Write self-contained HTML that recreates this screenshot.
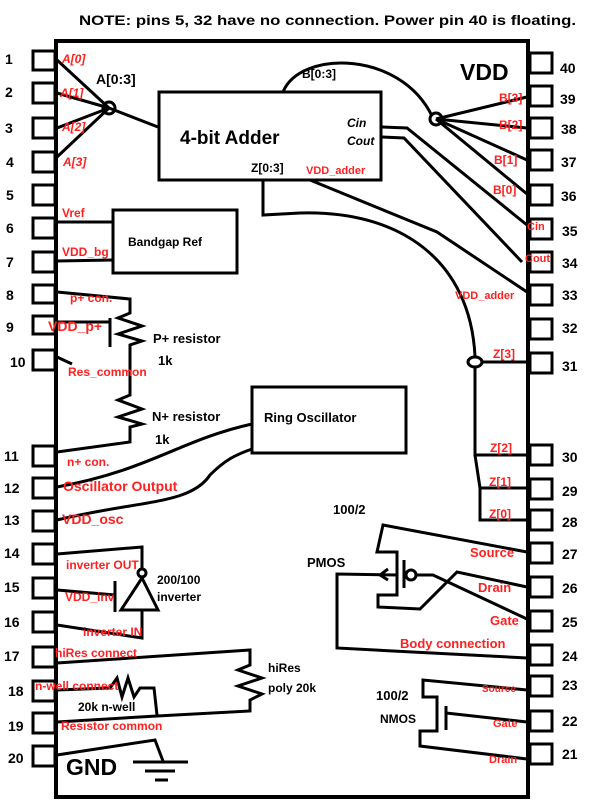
<!DOCTYPE html>
<html><head><meta charset="utf-8"><style>
html,body{margin:0;padding:0;background:#fff;}
svg{display:block;}
text{font-family:"Liberation Sans",sans-serif;font-weight:bold;}
.b{fill:#000;}
.r{fill:#ff2020;}
</style></head><body>
<svg width="600" height="808" viewBox="0 0 600 808" xmlns="http://www.w3.org/2000/svg">
<g fill="none" stroke="#000" stroke-width="3" stroke-linejoin="miter">
<!-- chip body -->
<rect x="56" y="41" width="472" height="756" stroke-width="4"/>
<!-- left pins -->
<g stroke-width="3">
<rect x="33" y="51" width="22" height="19"/>
<rect x="33" y="83" width="22" height="20"/>
<rect x="33" y="118" width="22" height="20"/>
<rect x="33" y="152" width="22" height="20"/>
<rect x="33" y="185" width="22" height="20"/>
<rect x="33" y="218" width="22" height="20"/>
<rect x="33" y="252" width="22" height="20"/>
<rect x="33" y="285" width="22" height="18"/>
<rect x="33" y="316" width="22" height="18"/>
<rect x="33" y="350" width="22" height="20"/>
<rect x="33" y="446" width="22" height="20"/>
<rect x="33" y="478" width="22" height="20"/>
<rect x="33" y="511" width="22" height="20"/>
<rect x="33" y="544" width="22" height="20"/>
<rect x="33" y="578" width="22" height="20"/>
<rect x="33" y="612" width="22" height="20"/>
<rect x="33" y="647" width="22" height="20"/>
<rect x="33" y="681" width="22" height="20"/>
<rect x="33" y="713" width="22" height="20"/>
<rect x="33" y="746" width="22" height="20"/>
</g>
<!-- right pins -->
<g>
<rect x="530" y="53" width="22" height="20"/>
<rect x="530" y="86" width="22" height="20"/>
<rect x="530" y="118" width="22" height="20"/>
<rect x="530" y="150" width="22" height="20"/>
<rect x="530" y="185" width="22" height="20"/>
<rect x="530" y="219" width="22" height="20"/>
<rect x="530" y="252" width="22" height="20"/>
<rect x="530" y="285" width="22" height="20"/>
<rect x="530" y="319" width="22" height="20"/>
<rect x="530" y="353" width="22" height="20"/>
<rect x="530" y="445" width="22" height="20"/>
<rect x="530" y="479" width="22" height="20"/>
<rect x="530" y="510" width="22" height="20"/>
<rect x="530" y="543" width="22" height="20"/>
<rect x="530" y="577" width="22" height="20"/>
<rect x="530" y="611" width="22" height="20"/>
<rect x="530" y="645" width="22" height="20"/>
<rect x="530" y="676" width="22" height="20"/>
<rect x="530" y="711" width="22" height="20"/>
<rect x="530" y="744" width="22" height="20"/>
</g>
<!-- adder -->
<rect x="159" y="92" width="222" height="88"/>
<circle cx="109" cy="108" r="6"/>
<path d="M57 60 L109 108 M57 93 L109 108 M57 128 L109 108 M57 157 L109 108 M109 108 L158 127"/>
<path d="M283 92 C300 50 400 50 432 116"/>
<circle cx="436" cy="119" r="6"/>
<path d="M436 119 L527 97 M436 119 L527 128 M436 119 L527 160 M436 119 L527 194"/>
<path d="M382 127 L407 128 L527 225"/>
<path d="M382 137 L404 138 L522 262"/>
<path d="M310 180 L437 232 L527 292"/>
<path d="M263 180 L263 215 L300 213 C400 210 470 260 475 356"/>
<ellipse cx="475" cy="362" rx="7" ry="5"/>
<path d="M482 362 L527 362 M475 367 L475 455 L527 455 M475 455 L480 488 L527 488 M480 488 L480 520 L527 520"/>
<!-- bandgap -->
<rect x="113" y="210" width="124" height="63"/>
<path d="M57 222 L113 222 M57 261 L113 260"/>
<!-- resistors -->
<path d="M57 292 L130 299 L130 313 L118 318 L142 326 L118 334 L142 341 L130 345 L130 395 L118 400 L142 409 L118 417 L142 424 L130 427 L130 442 L57 452"/>
<path d="M57 322 L110 322 M110 318 L110 347"/>
<path d="M57 357 L72 364"/>
<!-- ring osc -->
<rect x="252" y="387" width="154" height="66"/>
<path d="M57 487 C150 470 180 440 252 424"/>
<path d="M57 520 C140 500 190 505 210 475 C225 460 235 455 252 449"/>
<!-- inverter -->
<path d="M57 554 L142 547 L142 569"/>
<circle cx="142" cy="573" r="4"/>
<path d="M142 578 L121 610 L158 610 Z"/>
<path d="M115 581 L115 612 M57 590 L115 595 M142 610 L142 638 L57 625"/>
<!-- hiRes -->
<path d="M57 663 L250 650 L250 665 L238 670 L262 678 L238 686 L262 694 L250 700 L250 711 L157 716 L57 722"/>
<path d="M57 690 L110 688 L117 678 L122 697 L128 678 L134 697 L140 688 L154 688 L157 715"/>
<!-- GND -->
<path d="M57 755 L155 740 L163 761 M133 762 L188 762 M145 771 L175 771 M155 780 L168 780"/>
<!-- PMOS -->
<path d="M527 552 L383 525 L377 552 L397 552 L397 595 L378 595 L378 607 L420 609 L457 572 L527 587"/>
<path d="M404 560 L404 588"/>
<circle cx="411" cy="575" r="5"/>
<path d="M416 575 L433 575 L527 619"/>
<path d="M397 575 L337 574 L337 648 L527 658"/>
<path d="M388 569 L380 575 L388 580"/>
<!-- NMOS -->
<path d="M527 690 L423 680 L423 697 L437 697 L437 731 L420 731 L420 746 L527 759"/>
<path d="M446 706 L446 730 M446 713 L527 722"/>
</g>
<g class="b">
<text x="79" y="25" font-size="13.5" textLength="497" lengthAdjust="spacingAndGlyphs">NOTE: pins 5, 32 have no connection. Power pin 40 is floating.</text>
<g font-size="14">
<text x="5" y="64">1</text><text x="5" y="97">2</text><text x="5" y="133">3</text><text x="6" y="167">4</text>
<text x="6" y="200">5</text><text x="6" y="233">6</text><text x="6" y="267">7</text><text x="6" y="300">8</text>
<text x="6" y="332">9</text><text x="10" y="367">10</text><text x="4" y="461">11</text><text x="4" y="493">12</text>
<text x="4" y="525">13</text><text x="4" y="558">14</text><text x="4" y="592">15</text><text x="4" y="627">16</text>
<text x="4" y="661">17</text><text x="8" y="696">18</text><text x="8" y="731">19</text><text x="8" y="763">20</text>
<text x="560" y="73">40</text><text x="560" y="104">39</text><text x="561" y="134">38</text><text x="561" y="167">37</text>
<text x="561" y="201">36</text><text x="562" y="236">35</text><text x="562" y="268">34</text><text x="562" y="300">33</text>
<text x="562" y="333">32</text><text x="562" y="371">31</text><text x="562" y="462">30</text><text x="562" y="496">29</text>
<text x="562" y="527">28</text><text x="562" y="559">27</text><text x="562" y="593">26</text><text x="562" y="627">25</text>
<text x="562" y="661">24</text><text x="562" y="690">23</text><text x="562" y="726">22</text><text x="562" y="759">21</text>
</g>
<text x="460" y="80" font-size="23">VDD</text>
<text x="180" y="144" font-size="19">4-bit Adder</text>
<text x="96" y="84" font-size="14">A[0:3]</text>
<text x="302" y="78" font-size="12">B[0:3]</text>
<text x="347" y="127" font-size="12" font-style="italic">Cin</text>
<text x="347" y="145" font-size="12" font-style="italic">Cout</text>
<text x="251" y="172" font-size="12">Z[0:3]</text>
<text x="128" y="246" font-size="12">Bandgap Ref</text>
<text x="264" y="422" font-size="13">Ring Oscillator</text>
<text x="153" y="343" font-size="13">P+ resistor</text>
<text x="158" y="365" font-size="13">1k</text>
<text x="152" y="421" font-size="13">N+ resistor</text>
<text x="155" y="444" font-size="13">1k</text>
<text x="157" y="584" font-size="12">200/100</text>
<text x="157" y="601" font-size="12">inverter</text>
<text x="268" y="672" font-size="12">hiRes</text>
<text x="268" y="692" font-size="12">poly 20k</text>
<text x="78" y="711" font-size="12">20k n-well</text>
<text x="66" y="775" font-size="23">GND</text>
<text x="333" y="514" font-size="13">100/2</text>
<text x="307" y="567" font-size="13">PMOS</text>
<text x="376" y="700" font-size="13">100/2</text>
<text x="380" y="723" font-size="12">NMOS</text>
</g>
<g class="r" font-size="12">
<text x="62" y="63" font-style="italic">A[0]</text>
<text x="60" y="97" font-style="italic">A[1]</text>
<text x="62" y="131" font-style="italic">A[2]</text>
<text x="63" y="166" font-style="italic">A[3]</text>
<text x="499" y="102">B[3]</text>
<text x="499" y="129">B[2]</text>
<text x="494" y="164">B[1]</text>
<text x="493" y="194">B[0]</text>
<text x="527" y="230" font-size="11">Cin</text>
<text x="525" y="262" font-size="11">Cout</text>
<text x="306" y="174" font-size="11">VDD_adder</text>
<text x="455" y="299" font-size="11">VDD_adder</text>
<text x="493" y="358">Z[3]</text>
<text x="490" y="452">Z[2]</text>
<text x="489" y="486">Z[1]</text>
<text x="489" y="518">Z[0]</text>
<text x="62" y="217">Vref</text>
<text x="62" y="256">VDD_bg</text>
<text x="70" y="302">p+ con.</text>
<text x="48" y="331" font-size="14">VDD_p+</text>
<text x="68" y="376">Res_common</text>
<text x="67" y="466">n+ con.</text>
<text x="63" y="491" font-size="14">Oscillator Output</text>
<text x="62" y="524" font-size="14">VDD_osc</text>
<text x="66" y="569">inverter OUT</text>
<text x="65" y="601">VDD_inv</text>
<text x="83" y="636">inverter IN</text>
<text x="55" y="657">hiRes connect</text>
<text x="35" y="690">n-well connect</text>
<text x="61" y="730">Resistor common</text>
<text x="470" y="557" font-size="13">Source</text>
<text x="478" y="592" font-size="13">Drain</text>
<text x="490" y="625" font-size="13">Gate</text>
<text x="400" y="648" font-size="13">Body connection</text>
<text x="482" y="692" font-size="10">Source</text>
<text x="493" y="727" font-size="11">Gate</text>
<text x="489" y="763" font-size="11">Drain</text>
</g>
</svg>
</body></html>
